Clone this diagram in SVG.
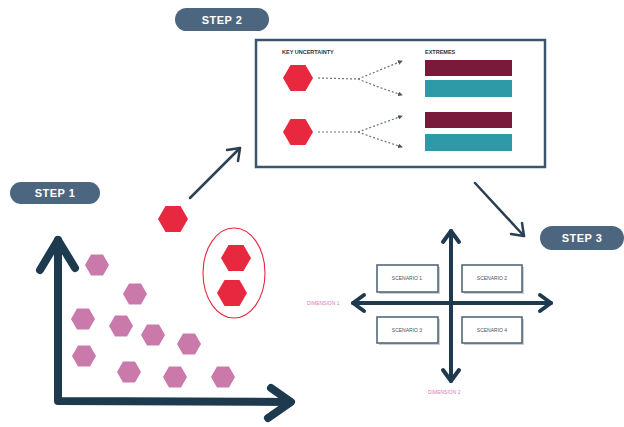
<svg xmlns="http://www.w3.org/2000/svg" width="624" height="427" viewBox="0 0 624 427">
<style>
.pill{fill:#4d6680}
.pt{fill:#ffffff;font-family:"Liberation Sans",Arial,sans-serif;font-weight:bold;font-size:11px;text-anchor:middle;letter-spacing:0.5px}
.ax{fill:none;stroke:#1e3a4f;stroke-linecap:round;stroke-linejoin:round}
.conn{fill:none;stroke:#2b3f52;stroke-width:2.5;stroke-linecap:round;stroke-linejoin:round}
.dash{fill:none;stroke:#6a7480;stroke-width:1.2;stroke-dasharray:2 2}
.lbl{fill:#333333;font-family:"Liberation Sans",Arial,sans-serif;font-weight:bold;font-size:5.5px}
.sc{fill:#ffffff;stroke:#4a5f72;stroke-width:1.5}
.scs{fill:#c9cfd5}
.sct{fill:#3f5568;font-family:"Liberation Sans",Arial,sans-serif;font-size:5px;text-anchor:middle}
.dim{fill:#e07ab0;font-family:"Liberation Sans",Arial,sans-serif;font-size:5px}
.pink{fill:#c97aab}
.red{fill:#e8283f}
</style>
<defs>
<polygon id="hp" points="-12,0 -6,-10.4 6,-10.4 12,0 6,10.4 -6,10.4"/>
<polygon id="hr" points="-15,0 -7.5,-13 7.5,-13 15,0 7.5,13 -7.5,13"/>
<marker id="dh" viewBox="0 0 6 6" refX="5" refY="3" markerWidth="4" markerHeight="4" orient="auto">
<path d="M0,0 L6,3 L0,6 z" fill="#4a5560"/>
</marker>
</defs>

<g id="step2">
<rect class="pill" x="175" y="8" width="94" height="23" rx="11.5"/>
<text class="pt" x="222" y="24">STEP 2</text>
</g>
<g id="step1">
<rect class="pill" x="10" y="182" width="90" height="22" rx="11"/>
<text class="pt" x="55" y="197">STEP 1</text>
</g>
<g id="step3">
<rect class="pill" x="540" y="226" width="84" height="24" rx="12"/>
<text class="pt" x="582" y="242">STEP 3</text>
</g>

<g id="uncertainty-box">
<rect x="256" y="40" width="289" height="127" fill="#ffffff" stroke="#3a5570" stroke-width="2.5"/>
<text class="lbl" x="282" y="54">KEY UNCERTAINTY</text>
<text class="lbl" x="425" y="54">EXTREMES</text>
<use href="#hr" class="red" x="298" y="78"/>
<use href="#hr" class="red" x="298" y="132"/>
<path class="dash" d="M318,78 L358,79 Q380,70 402,61" marker-end="url(#dh)"/>
<path class="dash" d="M358,79 Q380,88 402,95" marker-end="url(#dh)"/>
<path class="dash" d="M318,132 L358,132 Q380,124 402,116" marker-end="url(#dh)"/>
<path class="dash" d="M358,132 Q380,140 402,147" marker-end="url(#dh)"/>
<rect x="425" y="60" width="87" height="16" fill="#7a1a3a"/>
<rect x="425" y="80" width="87" height="17" fill="#2e9aa8"/>
<rect x="425" y="112" width="87" height="16" fill="#7a1a3a"/>
<rect x="425" y="134" width="87" height="17" fill="#2e9aa8"/>
</g>

<g id="scatter-chart">
<path class="ax" stroke-width="8" d="M58,240 L58,401 L290,402"/>
<path class="ax" stroke-width="8" d="M40,270 L58,240 L75,268"/>
<path class="ax" stroke-width="8" d="M271,388 L291,402 L268,418"/>
<use href="#hp" class="pink" x="97" y="265"/>
<use href="#hp" class="pink" x="135" y="294"/>
<use href="#hp" class="pink" x="83" y="319"/>
<use href="#hp" class="pink" x="121" y="326"/>
<use href="#hp" class="pink" x="153" y="335"/>
<use href="#hp" class="pink" x="189" y="344"/>
<use href="#hp" class="pink" x="84" y="356"/>
<use href="#hp" class="pink" x="129" y="372"/>
<use href="#hp" class="pink" x="175" y="377"/>
<use href="#hp" class="pink" x="223" y="377"/>
</g>

<g id="selected-hexagon">
<use href="#hr" class="red" x="173" y="219"/>
</g>

<g id="cluster">
<ellipse cx="234" cy="273" rx="31" ry="45" fill="none" stroke="#e8283f" stroke-width="1.1"/>
<use href="#hr" class="red" x="236" y="258"/>
<use href="#hr" class="red" x="232" y="293"/>
</g>

<g id="scenario-matrix">
<rect class="scs" x="379" y="267" width="61" height="27"/>
<rect class="scs" x="464" y="267" width="60" height="27"/>
<rect class="scs" x="379" y="319" width="61" height="26"/>
<rect class="scs" x="464" y="319" width="60" height="26"/>
<path class="ax" stroke-width="4" d="M451,231 L451,381"/>
<path class="ax" stroke-width="4" d="M353,303 L551,303"/>
<path class="ax" stroke-width="4" d="M443,242 L451,231 L459,242"/>
<path class="ax" stroke-width="4" d="M443,370 L451,381 L459,370"/>
<path class="ax" stroke-width="4" d="M364,295 L353,303 L364,311"/>
<path class="ax" stroke-width="4" d="M540,295 L551,303 L540,311"/>
<rect class="sc" x="377" y="265" width="61" height="27"/>
<rect class="sc" x="462" y="265" width="60" height="27"/>
<rect class="sc" x="377" y="317" width="61" height="26"/>
<rect class="sc" x="462" y="317" width="60" height="26"/>
<text class="sct" x="407" y="280">SCENARIO 1</text>
<text class="sct" x="492" y="280">SCENARIO 2</text>
<text class="sct" x="407" y="332">SCENARIO 3</text>
<text class="sct" x="492" y="332">SCENARIO 4</text>
<text class="dim" x="307" y="305">DIMENSION 1</text>
<text class="dim" x="428" y="394">DIMENSION 2</text>
</g>

<g id="connectors">
<path class="conn" d="M190,198 L240,148"/>
<path class="conn" d="M227,150 L240,148 L238,161"/>
<path class="conn" d="M475,183 L524,236"/>
<path class="conn" d="M522,223 L524,236 L511,234"/>
</g>
</svg>
